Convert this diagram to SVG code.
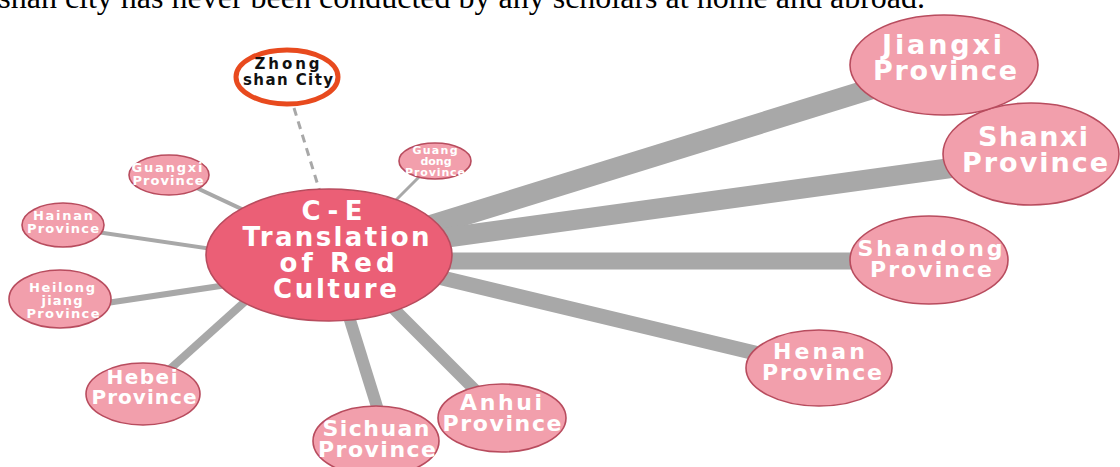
<svg xmlns="http://www.w3.org/2000/svg" width="1120" height="467" viewBox="0 0 1120 467">
<style>
.bg{fill:#ffffff}
.ln{stroke:#a8a8a8;stroke-linecap:butt;fill:none}
.dash{stroke:#a8a8a8;stroke-width:3;stroke-dasharray:8 6;fill:none}
.nd{fill:#f29fac;stroke:#b84c5e;stroke-width:1.6}
.hub{fill:#eb5f76;stroke:#b84c5e;stroke-width:1.6}
.zs{fill:#ffffff;stroke:#e84a1e;stroke-width:5}
.t{font-family:"DejaVu Sans","Liberation Sans",sans-serif;font-weight:bold;fill:#ffffff;text-anchor:middle}
.tk{font-family:"DejaVu Sans","Liberation Sans",sans-serif;font-weight:bold;fill:#111111;text-anchor:middle}
.top{font-family:"Liberation Serif","Times New Roman",serif;font-size:32px;fill:#000000}
</style>
<rect class="bg" x="0" y="0" width="1120" height="467"/>
<text class="top" x="925" y="8" text-anchor="end">gshan city has never been conducted by any scholars at home and abroad.</text>
<g id="connectors">
<line class="ln" x1="400" y1="235" x2="900" y2="80" stroke-width="21"/>
<line class="ln" x1="400" y1="244" x2="980" y2="164" stroke-width="20"/>
<line class="ln" x1="400" y1="261" x2="870" y2="261" stroke-width="17"/>
<line class="ln" x1="380" y1="263" x2="780" y2="359" stroke-width="15"/>
<line class="ln" x1="370" y1="285" x2="485" y2="400" stroke-width="12"/>
<line class="ln" x1="336" y1="275" x2="378" y2="410" stroke-width="12"/>
<line class="ln" x1="150" y1="387" x2="260" y2="288" stroke-width="8"/>
<line class="ln" x1="100" y1="304" x2="260" y2="280" stroke-width="6"/>
<line class="ln" x1="63" y1="227" x2="260" y2="256" stroke-width="4"/>
<line class="ln" x1="169" y1="175" x2="280" y2="227" stroke-width="4"/>
<line class="ln" x1="380" y1="216" x2="430" y2="166" stroke-width="3"/>
<line class="dash" x1="294" y1="108" x2="320" y2="192"/>
</g>
<g id="zhongshan">
<ellipse class="zs" cx="287" cy="77" rx="51" ry="27"/>
<text class="tk" font-size="15" x="287" y="69" textLength="65" lengthAdjust="spacing">Zhong</text>
<text class="tk" font-size="15" x="288" y="85" textLength="90" lengthAdjust="spacing">shan City</text>
</g>
<g id="guangdong">
<ellipse class="nd" cx="435" cy="161" rx="36" ry="18"/>
<text class="t" font-size="11" x="435" y="154" textLength="45" lengthAdjust="spacing">Guang</text>
<text class="t" font-size="11" x="436" y="165" textLength="31" lengthAdjust="spacing">dong</text>
<text class="t" font-size="11" x="435" y="176" textLength="60" lengthAdjust="spacing">Province</text>
</g>
<g id="guangxi">
<ellipse class="nd" cx="169" cy="175" rx="40" ry="20"/>
<text class="t" font-size="13" x="167" y="172" textLength="71" lengthAdjust="spacing">Guangxi</text>
<text class="t" font-size="13" x="168" y="185" textLength="71" lengthAdjust="spacing">Province</text>
</g>
<g id="hainan">
<ellipse class="nd" cx="63" cy="225" rx="41" ry="22"/>
<text class="t" font-size="13" x="63" y="220" textLength="60" lengthAdjust="spacing">Hainan</text>
<text class="t" font-size="13" x="63" y="233" textLength="72" lengthAdjust="spacing">Province</text>
</g>
<g id="heilongjiang">
<ellipse class="nd" cx="60" cy="299" rx="51" ry="29"/>
<text class="t" font-size="13" x="62" y="292" textLength="66" lengthAdjust="spacing">Heilong</text>
<text class="t" font-size="13" x="62" y="305" textLength="41" lengthAdjust="spacing">jiang</text>
<text class="t" font-size="13" x="63" y="318" textLength="73" lengthAdjust="spacing">Province</text>
</g>
<g id="hebei">
<ellipse class="nd" cx="143" cy="394" rx="57" ry="31"/>
<text class="t" font-size="20" x="142" y="384" textLength="71" lengthAdjust="spacing">Hebei</text>
<text class="t" font-size="20" x="144" y="404" textLength="105" lengthAdjust="spacing">Province</text>
</g>
<g id="sichuan">
<ellipse class="nd" cx="376" cy="441" rx="63" ry="35"/>
<text class="t" font-size="22" x="376" y="436" textLength="107" lengthAdjust="spacing">Sichuan</text>
<text class="t" font-size="22" x="377" y="457" textLength="118" lengthAdjust="spacing">Province</text>
</g>
<g id="anhui">
<ellipse class="nd" cx="502" cy="418" rx="64" ry="34"/>
<text class="t" font-size="22" x="501" y="410" textLength="82" lengthAdjust="spacing">Anhui</text>
<text class="t" font-size="22" x="502" y="431" textLength="119" lengthAdjust="spacing">Province</text>
</g>
<g id="henan">
<ellipse class="nd" cx="819" cy="368" rx="73" ry="38"/>
<text class="t" font-size="22" x="819" y="359" textLength="92" lengthAdjust="spacing">Henan</text>
<text class="t" font-size="22" x="822" y="380" textLength="120" lengthAdjust="spacing">Province</text>
</g>
<g id="shandong">
<ellipse class="nd" cx="929" cy="260" rx="79" ry="44"/>
<text class="t" font-size="22" x="930" y="256" textLength="145" lengthAdjust="spacing">Shandong</text>
<text class="t" font-size="22" x="931" y="277" textLength="122" lengthAdjust="spacing">Province</text>
</g>
<g id="shanxi">
<ellipse class="nd" cx="1031" cy="154" rx="88" ry="51"/>
<text class="t" font-size="27" x="1033" y="146" textLength="110" lengthAdjust="spacing">Shanxi</text>
<text class="t" font-size="27" x="1035" y="172" textLength="146" lengthAdjust="spacing">Province</text>
</g>
<g id="jiangxi">
<ellipse class="nd" cx="944" cy="65" rx="94" ry="50"/>
<text class="t" font-size="27" x="942" y="54" textLength="120" lengthAdjust="spacing">Jiangxi</text>
<text class="t" font-size="27" x="945" y="80" textLength="144" lengthAdjust="spacing">Province</text>
</g>
<g id="hub">
<ellipse class="hub" cx="329" cy="255" rx="123" ry="66"/>
<text class="t" font-size="26" x="332" y="220" textLength="61" lengthAdjust="spacing">C-E</text>
<text class="t" font-size="26" x="336" y="246" textLength="187" lengthAdjust="spacing">Translation</text>
<text class="t" font-size="26" x="337" y="272" textLength="115" lengthAdjust="spacing">of Red</text>
<text class="t" font-size="26" x="335" y="298" textLength="124" lengthAdjust="spacing">Culture</text>
</g>
</svg>
